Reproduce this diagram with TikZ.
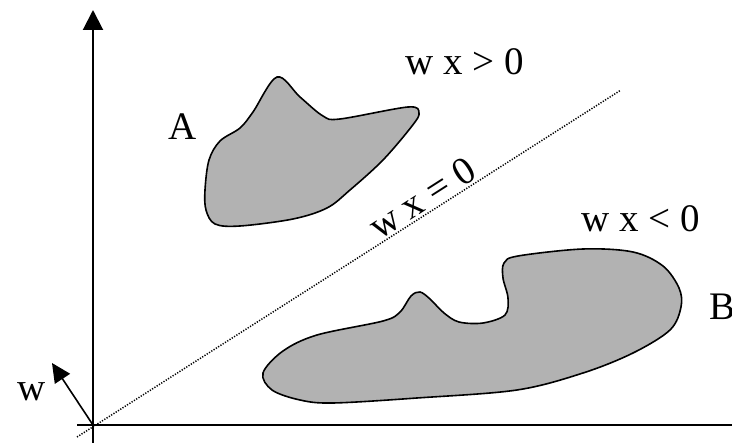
\documentclass[tikz,border=0pt]{standalone}
\usepackage{fontspec}
\setmainfont{Liberation Serif}
\usetikzlibrary{arrows.meta}

\begin{document}
\begin{tikzpicture}[x=1pt, y=-1pt, font=\fontsize{39}{44}\selectfont,
  >={Triangle[length=20pt,width=20pt]},
  axis/.style={line width=2pt},
  blob/.style={draw, line width=1.6pt, fill=black!30, smooth cycle, tension=0.55},
  lbl/.style={inner sep=0pt, anchor=base}]
  \useasboundingbox (0,0) rectangle (732,443);
  % axes
  \coordinate (o) at (93,425);
  \coordinate (ytop) at (93,10);
  \coordinate (ybot) at (93,443);
  \coordinate (xleft) at (77,425);
  \coordinate (xright) at (732,425);
  \coordinate (wtip) at (52,363);
  \coordinate (s1) at (77,437);
  \coordinate (s2) at (621,90);
  \draw[axis, ->] (ybot) -- (ytop);
  \draw[axis] (xleft) -- (xright);
  \draw[line width=1.6pt, ->, >={Triangle[length=19pt,width=18pt]}] (o) -- (wtip);
  % separating line
  \draw[line width=1.5pt, dash pattern=on 1.2pt off 1.5pt] (s1) --
    node[sloped, above=2pt, inner sep=0pt, pos=0.65] (eq) {w x = 0} (s2);
  % class A
  \draw[blob] plot coordinates {(277,77) (300,97) (323,116) (340,119) (408,107)
    (419,113) (412,126) (383,160) (350,190) (327,208) (293,219) (240,226)
    (215,224) (206,210) (205,190) (209,160) (220,141) (240,128) (253,112)};
  % class B
  \draw[blob] plot coordinates {(263,373) (283,351) (317,335) (383,321) (400,312)
    (411,296) (420,292) (430,299) (444,313) (459,322) (483,323) (505,315)
    (508,298) (503,278) (504,263) (518,256) (583,249) (633,252) (663,266)
    (679,288) (681,307) (670,330) (633,353) (583,373) (517,390) (417,398)
    (333,403) (300,400) (272,390)};
  % labels
  \node[lbl] (A) at (183,140) {A};
  \node[lbl, anchor=base west] (B) at (709,320) {B};
  \node[lbl] (pos) at (465,75) {w x > 0};
  \node[lbl] (neg) at (641,232) {w x < 0};
  \node[lbl] (w) at (32,401) {w};
\end{tikzpicture}
\end{document}
